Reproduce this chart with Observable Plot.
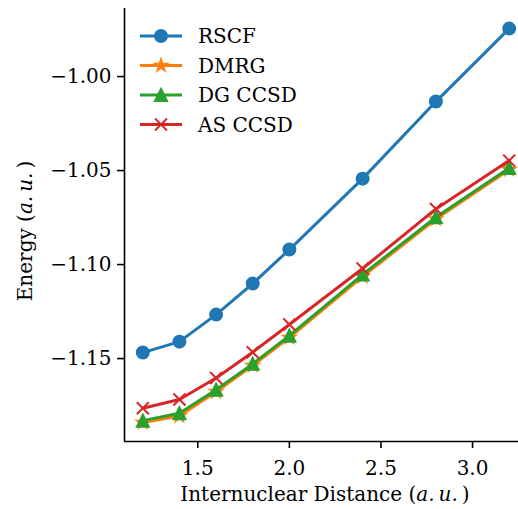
<!DOCTYPE html>
<html>
<head>
<meta charset="utf-8">
<script src="https://cdn.jsdelivr.net/npm/d3@7"></script>
<script src="https://cdn.jsdelivr.net/npm/@observablehq/plot@0.6"></script>
<style>
  html, body { margin: 0; padding: 0; background: #fff; }
  #chart { position: relative; width: 518px; height: 509px; overflow: hidden; }
  #chart svg text, #chart svg tspan { font-family: "DejaVu Serif", serif !important; }
</style>
</head>
<body>
<div id="chart"></div>
<script>
// ---- data ----
const distances = [1.2, 1.4, 1.6, 1.8, 2.0, 2.4, 2.8, 3.2];
const rscf   = [-1.1468, -1.1410, -1.1266, -1.1101, -1.0920, -1.0543, -1.0133, -0.9745];
const dmrg   = [-1.1840, -1.1805, -1.1676, -1.1537, -1.1388, -1.1064, -1.0758, -1.0495];
const dgccsd = [-1.1830, -1.1791, -1.1666, -1.1528, -1.1378, -1.1053, -1.0748, -1.0486];
const asccsd = [-1.1764, -1.1718, -1.1603, -1.1466, -1.1319, -1.1021, -1.0704, -1.0447];
const seriesNames = ["RSCF", "DMRG", "DG CCSD", "AS CCSD"];
const xTicks = [1.5, 2.0, 2.5, 3.0];
const yTicks = [-1.15, -1.10, -1.05, -1.00];
const xDomain = [1.1, 3.3];
const yDomain = [-1.1941, -0.9638];

const colors = ["#1f77b4", "#ff7f0e", "#2ca02c", "#d62728"];
const markerNames = ["circle", "star", "triangle", "x"];
const valuesList = [rscf, dmrg, dgccsd, asccsd];

// matplotlib-like marker shapes (half-extent derived from size = pi r^2)
const rOf = size => Math.sqrt(size / Math.PI);
const markerShapes = {
  circle: {draw(ctx, size) { const r = rOf(size); ctx.moveTo(r, 0); ctx.arc(0, 0, r, 0, 2 * Math.PI); ctx.closePath(); }},
  triangle: {draw(ctx, size) { const r = rOf(size); ctx.moveTo(0, -r); ctx.lineTo(r, r); ctx.lineTo(-r, r); ctx.closePath(); }},
  star: {draw(ctx, size) {
    const r = rOf(size), ri = r * 0.381966;
    for (let k = 0; k < 10; k++) {
      const a = -Math.PI / 2 + k * Math.PI / 5, rr = k % 2 ? ri : r;
      const px = rr * Math.cos(a), py = rr * Math.sin(a);
      k ? ctx.lineTo(px, py) : ctx.moveTo(px, py);
    }
    ctx.closePath();
  }},
  x: {draw(ctx, size) { const r = rOf(size); ctx.moveTo(-r, -r); ctx.lineTo(r, r); ctx.moveTo(-r, r); ctx.lineTo(r, -r); }}
};

const series = seriesNames.map((name, i) => ({
  name, color: colors[i], marker: markerNames[i],
  data: distances.map((d, j) => ({x: d, y: valuesList[i][j]}))
}));

const marks = [];
series.forEach(s => {
  marks.push(Plot.line(s.data, {x: "x", y: "y", stroke: s.color, strokeWidth: 3}));
  if (s.marker === "x") {
    marks.push(Plot.dot(s.data, {x: "x", y: "y", symbol: markerShapes.x, fill: "none", stroke: s.color, strokeWidth: 2, r: 6}));
  } else {
    marks.push(Plot.dot(s.data, {x: "x", y: "y", symbol: markerShapes[s.marker], fill: s.color, stroke: s.color, strokeWidth: 2, r: 6}));
  }
});

const plot = Plot.plot({
  width: 518,
  height: 509,
  marginTop: 8,
  marginBottom: 68,
  marginLeft: 124,
  marginRight: -9,
  style: {fontFamily: "DejaVu Serif, serif", fontSize: "20px", color: "#000", background: "#fff"},
  x: {domain: xDomain, ticks: xTicks, tickFormat: d3.format(".1f"), label: null, tickSize: 7, tickPadding: 12},
  y: {domain: yDomain, ticks: yTicks, tickFormat: d3.format(".2f"), label: null, tickSize: 7, tickPadding: 6},
  marks: [
    Plot.ruleX([xDomain[0]], {stroke: "#000", strokeWidth: 1.6}),
    Plot.ruleY([yDomain[0]], {stroke: "#000", strokeWidth: 1.6}),
    ...marks
  ]
});
document.getElementById("chart").appendChild(plot);

const svg = d3.select(plot);
svg.selectAll("[aria-label='x-axis tick'] path, [aria-label='y-axis tick'] path").attr("stroke-width", 1.6);

// axis labels with italic math part
function mathLabel(sel, prefix) {
  sel.append("tspan").text(prefix + "(");
  sel.append("tspan").attr("font-style", "italic").text("a.\u2009u.\u2009");
  sel.append("tspan").text(")");
}
const xl = svg.append("text")
  .attr("x", 325).attr("y", 501)
  .attr("text-anchor", "middle")
  .attr("font-size", 20).attr("fill", "#000");
mathLabel(xl, "Internuclear Distance ");

const yl = svg.append("text")
  .attr("transform", "translate(32,231) rotate(-90)")
  .attr("text-anchor", "middle")
  .attr("font-size", 20).attr("fill", "#000");
mathLabel(yl, "Energy ");

// legend
const lg = svg.append("g").attr("font-size", 20).attr("text-anchor", "start");
series.forEach((s, i) => {
  const cy = 36 + i * 29.5;
  const g = lg.append("g").attr("transform", `translate(0,${cy})`);
  g.append("line").attr("x1", 140).attr("x2", 182).attr("y1", 0).attr("y2", 0)
    .attr("stroke", s.color).attr("stroke-width", 3);
  const path = d3.symbol(markerShapes[s.marker], Math.PI * 36)();
  const p = g.append("path").attr("d", path).attr("transform", "translate(161,0)");
  if (s.marker === "x") p.attr("fill", "none").attr("stroke", s.color).attr("stroke-width", 2);
  else p.attr("fill", s.color).attr("stroke", s.color).attr("stroke-width", 2);
  g.append("text").attr("x", 198).attr("y", 0).attr("dy", "0.36em").attr("fill", "#000").text(s.name);
});
</script>
</body>
</html>
